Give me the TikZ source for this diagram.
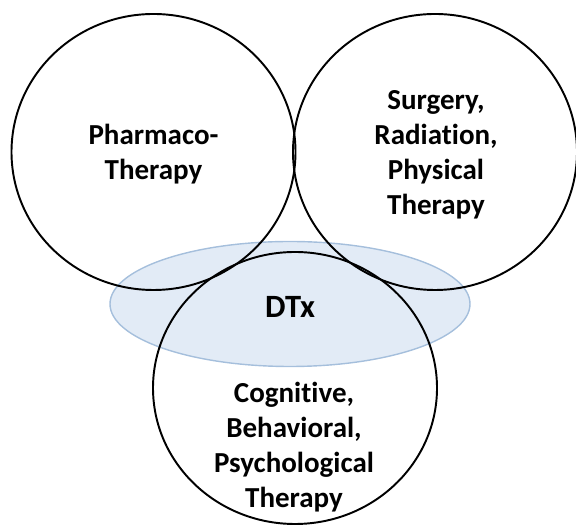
\documentclass[tikz,border=0pt]{standalone}
\usepackage{fontspec}
\setmainfont{Carlito}[Ligatures=NoCommon]
\usetikzlibrary{shapes.geometric}
\definecolor{dtxfill}{HTML}{E2EBF6}
\definecolor{dtxrim}{HTML}{A5BFDC}

\begin{document}
\begin{tikzpicture}[line cap=round, font=\bfseries\fontsize{16.5}{19.9}\selectfont]
	\useasboundingbox (0,0) rectangle (11.52,10.60);
	\tikzset{
		ring/.style={ellipse, draw=black, line width=1.1pt,
			minimum width=5.68cm, minimum height=5.52cm, inner sep=0pt},
		tag/.style={align=center, inner sep=0pt}
	}

	% ---- ellisse DTx (sotto i cerchi) ----
	\node[ellipse, fill=dtxfill, draw=dtxrim, line width=0.8pt, inner sep=0pt,
		minimum width=7.20cm, minimum height=2.50cm] (dtx) at (5.80,4.52) {};

	% ---- cerchi ----
	\node[ring] (pharma)  at (3.07,7.56) {};
	\node[ring] (surgery) at (8.70,7.56) {};
	\node[ring, minimum height=5.44cm] (cbt) at (5.90,2.84) {};

	% ---- testi ----
	\node[tag] (pharmatext)   at (3.07,7.51) {Pharmaco-\\Therapy};
	\node[tag] (surgerytext)  at (8.72,7.51) {Surgery,\\Radiation,\\Physical\\Therapy};
	\node[tag, font=\bfseries\fontsize{18.5}{22}\selectfont] (dtxtext) at (5.80,4.46) {DTx};
	\node[tag] (cbttext)      at (5.88,1.66) {Cognitive,\\Behavioral,\\Psychological\\Therapy};

\end{tikzpicture}
\end{document}
